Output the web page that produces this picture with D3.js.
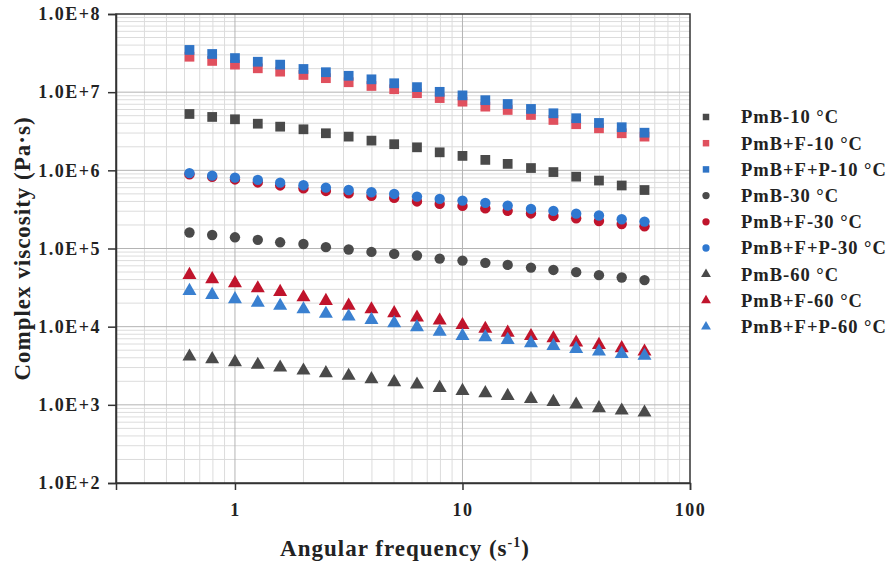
<!DOCTYPE html>
<html>
<head>
<meta charset="utf-8">
<script src="https://cdn.jsdelivr.net/npm/d3@7"></script>
<style>
  body { margin: 0; background: #fff; }
  text { font-family: "Liberation Serif", "Times New Roman", serif; font-weight: bold; fill: #222; }
</style>
</head>
<body>
<script>
// angular frequency (s^-1)
var freq = [0.631, 0.794, 1, 1.26, 1.58, 2, 2.51, 3.16, 3.98, 5.01, 6.31, 7.94, 10, 12.6, 15.8, 20, 25.1, 31.6, 39.8, 50.1, 63.1];

var pmb10 = [5.26e6, 4.82e6, 4.50e6, 3.95e6, 3.62e6, 3.35e6, 2.98e6, 2.70e6, 2.40e6, 2.16e6, 1.97e6, 1.70e6, 1.53e6, 1.36e6, 1.21e6, 1.07e6, 9.5e5, 8.3e5, 7.4e5, 6.4e5, 5.6e5];
var pmbF10 = [2.84e7, 2.51e7, 2.25e7, 2.02e7, 1.83e7, 1.66e7, 1.51e7, 1.34e7, 1.20e7, 1.09e7, 9.7e6, 8.4e6, 7.56e6, 6.53e6, 5.92e6, 5.11e6, 4.41e6, 3.89e6, 3.45e6, 2.98e6, 2.70e6];
var pmbFP10 = [3.47e7, 3.08e7, 2.73e7, 2.45e7, 2.25e7, 1.98e7, 1.80e7, 1.62e7, 1.46e7, 1.30e7, 1.16e7, 1.01e7, 9.1e6, 7.9e6, 7.06e6, 6.1e6, 5.37e6, 4.64e6, 4.04e6, 3.56e6, 3.03e6];
var pmb30 = [1.60e5, 1.49e5, 1.39e5, 1.29e5, 1.20e5, 1.14e5, 1.04e5, 9.7e4, 9.05e4, 8.54e4, 8.12e4, 7.43e4, 7.00e4, 6.55e4, 6.17e4, 5.70e4, 5.32e4, 4.98e4, 4.56e4, 4.25e4, 3.94e4];
var pmbF30 = [8.87e5, 8.24e5, 7.65e5, 7.00e5, 6.41e5, 5.87e5, 5.45e5, 5.07e5, 4.71e5, 4.44e5, 4.00e5, 3.72e5, 3.51e5, 3.26e5, 3.03e5, 2.81e5, 2.61e5, 2.43e5, 2.25e5, 2.06e5, 1.92e5];
var pmbFP30 = [9.2e5, 8.55e5, 8.07e5, 7.54e5, 6.96e5, 6.45e5, 6.01e5, 5.61e5, 5.25e5, 4.99e5, 4.61e5, 4.31e5, 4.10e5, 3.83e5, 3.54e5, 3.21e5, 3.03e5, 2.79e5, 2.64e5, 2.37e5, 2.21e5];
var pmb60 = [4.15e3, 3.84e3, 3.51e3, 3.25e3, 3.00e3, 2.75e3, 2.54e3, 2.35e3, 2.13e3, 1.95e3, 1.82e3, 1.65e3, 1.51e3, 1.41e3, 1.30e3, 1.19e3, 1.09e3, 1.01e3, 9.08e2, 8.45e2, 7.98e2];
var pmbF60 = [4.59e4, 4.05e4, 3.60e4, 3.10e4, 2.79e4, 2.38e4, 2.14e4, 1.86e4, 1.67e4, 1.49e4, 1.31e4, 1.20e4, 1.05e4, 9.4e3, 8.4e3, 7.6e3, 7.1e3, 6.27e3, 5.85e3, 5.31e3, 4.81e3];
var pmbFP60 = [2.87e4, 2.55e4, 2.25e4, 2.03e4, 1.85e4, 1.67e4, 1.46e4, 1.35e4, 1.22e4, 1.11e4, 9.86e3, 8.59e3, 7.62e3, 7.34e3, 6.78e3, 6.15e3, 5.68e3, 5.20e3, 4.81e3, 4.49e3, 4.24e3];

var seriesNames = ["PmB-10 \u00B0C", "PmB+F-10 \u00B0C", "PmB+F+P-10 \u00B0C", "PmB-30 \u00B0C", "PmB+F-30 \u00B0C", "PmB+F+P-30 \u00B0C", "PmB-60 \u00B0C", "PmB+F-60 \u00B0C", "PmB+F+P-60 \u00B0C"];
var seriesValues = [pmb10, pmbF10, pmbFP10, pmb30, pmbF30, pmbFP30, pmb60, pmbF60, pmbFP60];
var yTicks = [1e2, 1e3, 1e4, 1e5, 1e6, 1e7, 1e8];
var yTickLabels = ["1.0E+2", "1.0E+3", "1.0E+4", "1.0E+5", "1.0E+6", "1.0E+7", "1.0E+8"];
var xTicks = [1, 10, 100];

var shapes = [d3.symbolSquare, d3.symbolSquare, d3.symbolSquare, d3.symbolCircle, d3.symbolCircle, d3.symbolCircle, d3.symbolTriangle, d3.symbolTriangle, d3.symbolTriangle];
var colors = ["#4a4a4a", "#e0505e", "#2f74c6", "#4a4a4a", "#c0142c", "#2f78d0", "#4a4a4a", "#c0142c", "#3a80d0"];
var sizes = [95, 95, 95, 85, 85, 85, 85, 85, 85];

var width = 894, height = 567;
var margin = { left: 116, top: 14, right: 690, bottom: 483 };

var svg = d3.select("body").append("svg")
  .attr("width", width)
  .attr("height", height);

var x = d3.scaleLog().domain([0.3, 100]).range([margin.left, margin.right]);
var y = d3.scaleLog().domain([1e2, 1e8]).range([margin.bottom, margin.top]);

// grid lines
var xMinor = [], yMinor = [];
[0.1, 1, 10].forEach(function (d) {
  for (var k = 2; k <= 9; k++) {
    var v = d * k;
    if (v > 0.3 && v < 100 && v !== 1 && v !== 10) xMinor.push(v);
  }
});
for (var e = 2; e < 8; e++) {
  for (var k = 2; k <= 9; k++) yMinor.push(k * Math.pow(10, e));
}

var grid = svg.append("g");
grid.selectAll(".vminor").data(xMinor).enter().append("line")
  .attr("x1", function (d) { return x(d); }).attr("x2", function (d) { return x(d); })
  .attr("y1", margin.top).attr("y2", margin.bottom)
  .attr("stroke", "#dcdcdc").attr("stroke-width", 1);
grid.selectAll(".hminor").data(yMinor).enter().append("line")
  .attr("x1", margin.left).attr("x2", margin.right)
  .attr("y1", function (d) { return y(d); }).attr("y2", function (d) { return y(d); })
  .attr("stroke", "#dcdcdc").attr("stroke-width", 1);
grid.selectAll(".vmajor").data([1, 10]).enter().append("line")
  .attr("x1", function (d) { return x(d); }).attr("x2", function (d) { return x(d); })
  .attr("y1", margin.top).attr("y2", margin.bottom)
  .attr("stroke", "#b4b4b4").attr("stroke-width", 1);
grid.selectAll(".hmajor").data(yTicks.slice(1, -1)).enter().append("line")
  .attr("x1", margin.left).attr("x2", margin.right)
  .attr("y1", function (d) { return y(d); }).attr("y2", function (d) { return y(d); })
  .attr("stroke", "#b4b4b4").attr("stroke-width", 1);

// frame
svg.append("rect")
  .attr("x", margin.left).attr("y", margin.top)
  .attr("width", margin.right - margin.left).attr("height", margin.bottom - margin.top)
  .attr("fill", "none").attr("stroke", "#333").attr("stroke-width", 1.5);

// axes
var yAxis = svg.append("g")
  .attr("transform", "translate(" + margin.left + ",0)")
  .call(d3.axisLeft(y).tickValues(yTicks).tickSize(8)
    .tickFormat(function (d, i) { return yTickLabels[i]; }));
yAxis.select(".domain").attr("stroke", "#333").attr("stroke-width", 1.5);
yAxis.selectAll(".tick line").attr("stroke", "#333").attr("stroke-width", 1.5);
yAxis.selectAll("text").attr("font-size", 18).attr("x", -15).attr("fill", "#222")
  .attr("letter-spacing", 1.5)
  .style("font-family", "'Liberation Serif', serif").style("font-weight", "bold");

var xAxis = svg.append("g")
  .attr("transform", "translate(0," + margin.bottom + ")")
  .call(d3.axisBottom(x).tickValues(xTicks).tickSize(7).tickFormat(d3.format("d")));
xAxis.select(".domain").attr("stroke", "#333").attr("stroke-width", 1.5);
xAxis.selectAll(".tick line").attr("stroke", "#333").attr("stroke-width", 1.5);
xAxis.selectAll("text").attr("font-size", 18).attr("y", 20).attr("fill", "#222")
  .attr("letter-spacing", 1.5)
  .style("font-family", "'Liberation Serif', serif").style("font-weight", "bold");

// axis titles
svg.append("text")
  .attr("transform", "translate(30," + ((margin.top + margin.bottom) / 2) + ") rotate(-90)")
  .attr("text-anchor", "middle")
  .attr("font-size", 23)
  .attr("letter-spacing", 1)
  .text("Complex viscosity (Pa\u00B7s)");

var xt = svg.append("text")
  .attr("x", 405)
  .attr("y", 556)
  .attr("text-anchor", "middle")
  .attr("font-size", 23)
  .attr("letter-spacing", 1);
xt.append("tspan").text("Angular frequency (s");
xt.append("tspan").attr("dy", -9).attr("font-size", 14).text("-1");
xt.append("tspan").attr("dy", 9).text(")");

// points
var plot = svg.append("g");
seriesValues.forEach(function (vals, s) {
  plot.append("g").selectAll("path")
    .data(vals)
    .enter().append("path")
    .attr("d", d3.symbol().type(shapes[s]).size(sizes[s]))
    .attr("transform", function (d, i) { return "translate(" + x(freq[i]) + "," + y(d) + ")"; })
    .attr("fill", colors[s]);
});

// legend
var legend = svg.append("g");
var lg = legend.selectAll("g").data(seriesNames).enter().append("g")
  .attr("transform", function (d, i) { return "translate(706," + (117 + i * 26.2) + ")"; });
lg.append("path")
  .attr("d", function (d, i) { return d3.symbol().type(shapes[i]).size(42)(); })
  .attr("fill", function (d, i) { return colors[i]; });
lg.append("text")
  .attr("x", 35)
  .attr("dy", "0.35em")
  .attr("font-size", 18.5)
  .attr("letter-spacing", 1)
  .text(function (d) { return d; });
</script>
</body>
</html>
